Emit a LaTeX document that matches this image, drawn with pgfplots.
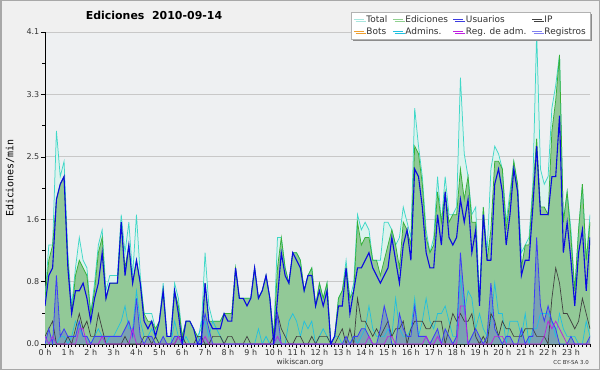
\documentclass[border=0pt]{standalone}
\usepackage{pgfplots}
\pgfplotsset{compat=1.18}
\usepackage{pgfplotstable}
\usepackage{fontspec}
\setmainfont{DejaVu Sans}
\newfontfamily\monofont{DejaVu Sans Mono}
\usetikzlibrary{shadows}
\definecolor{bgout}{HTML}{F0F0F0}
\definecolor{bgplot}{HTML}{EEF0F2}
\definecolor{framec}{HTML}{A8A8A8}
\definecolor{gridc}{HTML}{C8C8C8}
\definecolor{totline}{HTML}{40D8C8}
\definecolor{totfill}{HTML}{DDF3EE}
\definecolor{edline}{HTML}{38B038}
\definecolor{edfill}{HTML}{92C997}
\definecolor{usline}{HTML}{0A0AE0}
\definecolor{ipline}{HTML}{404040}
\definecolor{adline}{HTML}{20C0E0}
\definecolor{regline}{HTML}{3C3CF8}
\definecolor{raline}{HTML}{C020E0}
\definecolor{botline}{HTML}{F0A030}
\definecolor{lgtot}{HTML}{A8E6DE}
\definecolor{lged}{HTML}{90D090}
\definecolor{lgus}{HTML}{3C3CE0}
\definecolor{lgreg}{HTML}{8080F0}

\pgfplotstableread{
i U E T I R A M
0 0.5 0.6 0.6 0.1 0.0 0.1 0.1
1 0.9 1.1 1.3 0.2 0.2 0.0 0.0
2 1.0 1.3 1.3 0.3 0.0 0.1 0.1
3 1.9 1.9 2.8 0.0 0.9 0.0 0.0
4 2.1 2.1 2.2 0.0 0.1 0.1 0.0
5 2.2 2.2 2.4 0.0 0.2 0.1 0.0
6 1.0 1.1 1.2 0.1 0.1 0.0 0.0
7 0.4 0.4 0.5 0.0 0.1 0.1 0.0
8 0.7 0.9 1.0 0.2 0.1 0.3 0.0
9 0.7 1.1 1.4 0.4 0.3 0.2 0.2
10 0.8 1.0 1.1 0.2 0.1 0.1 0.2
11 0.6 0.9 1.0 0.3 0.1 0.1 0.0
12 0.3 0.4 0.4 0.1 0.0 0.0 0.0
13 0.6 0.7 0.8 0.1 0.1 0.1 0.0
14 0.8 1.2 1.3 0.4 0.1 0.2 0.0
15 1.2 1.4 1.5 0.2 0.1 0.1 0.1
16 0.6 0.6 0.7 0.0 0.1 0.0 0.0
17 0.8 0.8 0.9 0.0 0.1 0.1 0.0
18 0.8 0.8 0.9 0.0 0.1 0.1 0.0
19 0.8 0.8 0.9 0.0 0.1 0.2 0.0
20 1.6 1.6 1.7 0.0 0.1 0.3 0.0
21 0.9 1.0 1.2 0.1 0.2 0.5 0.0
22 1.3 1.3 1.6 0.0 0.3 0.2 0.0
23 0.8 0.8 0.9 0.0 0.1 0.2 0.2
24 1.1 1.1 1.7 0.0 0.6 0.7 0.0
25 0.8 0.8 0.9 0.0 0.1 0.3 0.0
26 0.3 0.4 0.4 0.1 0.0 0.1 0.0
27 0.2 0.3 0.4 0.1 0.1 0.1 0.0
28 0.3 0.3 0.4 0.0 0.1 0.2 0.0
29 0.1 0.2 0.2 0.1 0.0 0.1 0.0
30 0.3 0.3 0.3 0.0 0.0 0.0 0.0
31 0.7 0.7 0.8 0.0 0.1 0.0 0.0
32 0.1 0.1 0.1 0.0 0.0 0.0 0.0
33 0.1 0.1 0.1 0.0 0.0 0.0 0.0
34 0.7 0.7 0.8 0.0 0.1 0.3 0.0
35 0.4 0.5 0.6 0.1 0.1 0.1 0.1
36 0.0 0.1 0.1 0.1 0.0 0.0 0.0
37 0.3 0.3 0.3 0.0 0.0 0.1 0.0
38 0.3 0.3 0.3 0.0 0.0 0.0 0.0
39 0.2 0.2 0.2 0.0 0.0 0.0 0.0
40 0.0 0.1 0.1 0.1 0.0 0.0 0.0
41 0.0 0.1 0.2 0.1 0.1 0.3 0.0
42 0.8 0.8 1.2 0.0 0.4 0.3 0.1
43 0.3 0.3 0.5 0.0 0.2 0.1 0.0
44 0.2 0.3 0.3 0.1 0.0 0.3 0.0
45 0.2 0.3 0.3 0.1 0.0 0.2 0.0
46 0.2 0.3 0.3 0.1 0.0 0.1 0.0
47 0.4 0.4 0.4 0.0 0.0 0.0 0.0
48 0.3 0.4 0.4 0.1 0.0 0.0 0.0
49 0.3 0.4 0.4 0.1 0.0 0.0 0.0
50 1.0 1.0 1.0 0.0 0.0 0.0 0.0
51 0.6 0.6 0.6 0.0 0.0 0.0 0.0
52 0.6 0.6 0.6 0.0 0.0 0.0 0.0
53 0.5 0.6 0.6 0.1 0.0 0.0 0.0
54 0.6 0.6 0.6 0.0 0.0 0.0 0.0
55 1.0 1.0 1.0 0.0 0.0 0.0 0.0
56 0.6 0.6 0.6 0.0 0.0 0.2 0.0
57 0.7 0.7 0.7 0.0 0.0 0.0 0.0
58 0.9 0.9 0.9 0.0 0.0 0.1 0.0
59 0.6 0.6 0.6 0.0 0.0 0.0 0.0
60 0.0 0.1 0.1 0.1 0.0 0.0 0.0
61 0.6 1.0 1.4 0.4 0.4 0.1 0.1
62 1.2 1.4 1.4 0.2 0.0 0.0 0.0
63 0.9 1.0 1.0 0.1 0.0 0.0 0.0
64 0.8 0.8 0.8 0.0 0.0 0.3 0.0
65 1.2 1.2 1.2 0.0 0.0 0.4 0.0
66 1.1 1.2 1.2 0.1 0.0 0.3 0.0
67 1.0 1.1 1.1 0.1 0.0 0.1 0.0
68 0.7 0.7 0.7 0.0 0.0 0.3 0.0
69 0.9 0.9 0.9 0.0 0.0 0.2 0.0
70 0.9 1.0 1.0 0.1 0.0 0.3 0.0
71 0.5 0.5 0.5 0.0 0.0 0.0 0.0
72 0.7 0.8 0.8 0.1 0.0 0.1 0.0
73 0.5 0.6 0.6 0.1 0.0 0.2 0.0
74 0.7 0.8 0.8 0.1 0.0 0.1 0.0
75 0.0 0.0 0.0 0.0 0.0 0.0 0.0
76 0.1 0.1 0.1 0.0 0.0 0.1 0.0
77 0.5 0.6 0.6 0.1 0.0 0.1 0.0
78 0.5 0.7 0.7 0.2 0.0 0.0 0.0
79 1.0 1.0 1.1 0.0 0.1 0.0 0.0
80 0.4 0.6 0.6 0.2 0.0 0.0 0.0
81 0.7 0.7 0.8 0.0 0.1 0.1 0.0
82 1.0 1.6 1.7 0.6 0.1 0.0 0.0
83 1.0 1.3 1.5 0.3 0.2 0.1 0.0
84 1.1 1.4 1.6 0.3 0.2 0.2 0.0
85 1.2 1.4 1.5 0.2 0.1 0.5 0.1
86 1.0 1.1 1.1 0.1 0.0 0.2 0.0
87 0.9 1.1 1.1 0.2 0.0 0.1 0.0
88 0.8 0.9 1.1 0.1 0.2 0.1 0.0
89 0.9 1.1 1.6 0.2 0.5 0.1 0.0
90 1.0 1.3 1.6 0.3 0.3 0.2 0.1
91 1.4 1.5 1.5 0.1 0.0 0.1 0.1
92 1.1 1.3 1.3 0.2 0.0 0.6 0.0
93 0.8 1.0 1.4 0.2 0.4 0.2 0.0
94 1.3 1.6 1.8 0.3 0.2 0.1 0.0
95 1.5 1.5 1.6 0.0 0.1 0.1 0.0
96 1.1 1.3 1.4 0.2 0.1 0.2 0.0
97 2.3 2.6 3.1 0.3 0.5 0.6 0.0
98 2.2 2.5 2.6 0.3 0.1 0.1 0.0
99 1.8 2.1 2.2 0.3 0.1 0.3 0.0
100 1.2 1.4 1.5 0.2 0.1 0.6 0.1
101 1.0 1.2 1.2 0.2 0.0 0.3 0.0
102 1.0 1.3 1.4 0.3 0.1 0.2 0.0
103 1.7 2.0 2.2 0.3 0.2 0.4 0.1
104 1.3 1.6 1.6 0.3 0.0 0.4 0.0
105 2.0 2.0 2.2 0.0 0.2 0.5 0.0
106 1.4 1.6 1.7 0.2 0.1 0.3 0.0
107 1.3 1.7 1.7 0.4 0.0 0.1 0.0
108 1.4 1.7 1.8 0.3 0.1 0.1 0.0
109 1.9 2.3 3.5 0.4 1.2 0.9 0.5
110 1.6 1.9 2.5 0.3 0.6 0.4 0.5
111 1.9 2.2 2.2 0.3 0.0 0.7 0.0
112 1.2 1.6 1.7 0.4 0.1 0.6 0.0
113 1.5 1.6 1.8 0.1 0.2 0.2 0.0
114 0.5 0.5 0.6 0.0 0.1 0.4 0.0
115 1.7 1.8 1.8 0.1 0.0 0.2 0.0
116 1.1 1.1 1.2 0.0 0.1 0.1 0.0
117 1.1 1.5 2.3 0.4 0.8 0.3 0.0
118 2.1 2.4 2.6 0.3 0.2 0.8 0.1
119 2.3 2.4 2.5 0.1 0.1 0.4 0.1
120 2.0 2.3 2.3 0.3 0.0 0.4 0.1
121 1.3 1.5 1.6 0.2 0.1 0.0 0.0
122 1.7 1.9 2.0 0.2 0.1 0.3 0.0
123 2.3 2.4 2.4 0.1 0.0 0.3 0.0
124 2.0 2.1 2.1 0.1 0.0 0.3 0.0
125 0.9 1.0 1.2 0.1 0.2 0.1 0.0
126 1.1 1.3 1.3 0.2 0.0 0.4 0.0
127 1.1 1.3 1.4 0.2 0.1 0.0 0.0
128 1.8 2.0 2.1 0.2 0.1 0.2 0.0
129 2.6 2.7 4.1 0.1 1.4 0.2 0.0
130 1.7 1.8 2.3 0.1 0.5 0.4 0.0
131 1.7 1.8 2.1 0.1 0.3 0.4 0.1
132 1.7 1.7 2.2 0.0 0.5 0.4 0.3
133 2.2 2.8 3.1 0.6 0.3 0.3 0.2
134 2.2 3.2 3.4 1.0 0.2 0.1 0.3
135 3.0 3.8 3.8 0.8 0.0 0.4 0.2
136 1.2 1.6 1.6 0.4 0.0 0.2 0.1
137 1.6 2.0 2.0 0.4 0.0 0.1 0.0
138 1.1 1.4 1.5 0.3 0.1 0.1 0.0
139 0.5 0.7 0.7 0.2 0.0 0.1 0.0
140 1.2 1.5 1.5 0.3 0.0 0.0 0.0
141 1.5 2.1 2.1 0.6 0.0 0.0 0.0
142 0.7 1.1 1.1 0.4 0.0 0.3 0.0
143 1.4 1.6 1.7 0.2 0.1 0.1 0.0
}\data

\begin{document}
\begin{tikzpicture}[x=1bp,y=1bp]
\fill[bgout] (0,0) rectangle (600,370);
\draw[framec, line width=1.5bp] (0.75,0.75) rectangle (599.25,369.25);
\begin{axis}[
  at={(45bp,26bp)}, anchor=south west,
  scale only axis, width=545bp, height=312bp,
  xmin=0, xmax=143, ymin=0, ymax=4.1,
  axis x line*=bottom, axis y line*=left,
  axis line style={black, line width=0.9bp},
  axis background/.style={fill=bgplot},
  tick align=outside,
  major tick length=4bp, minor tick length=3bp,
  every tick/.style={black, line width=0.6bp},
  xtick={0,6,...,138},
  xticklabels={0 h,1 h,2 h,3 h,4 h,5 h,6 h,7 h,8 h,9 h,10 h,11 h,12 h,13 h,14 h,15 h,16 h,17 h,18 h,19 h,20 h,21 h,22 h,23 h},
  minor xtick={0,1,...,143},
  ytick={0,0.82,1.64,2.46,3.28,4.1},
  yticklabels={0.0,0.8,1.6,2.5,3.3,4.1},
  minor ytick={0.41,1.23,2.05,2.87,3.69},
  ymajorgrids, major grid style={gridc, line width=0.8bp},
  ticklabel style={font=\fontsize{8}{9}\selectfont, text=black!80},
  xticklabel style={inner sep=1bp, yshift=-0.5bp},
  yticklabel style={inner sep=1.5bp},
  legend columns=4,
  legend cell align=left,
  legend image code/.code={\draw[#1] (0bp,0bp) -- (10bp,0bp);},
  legend style={at={(1,1.064)}, anchor=north east, draw=gray!60, fill=white,
    font=\fontsize{9}{9}\selectfont, text=black!80, inner xsep=2bp, inner ysep=1.5bp,
    row sep=-0.5bp,
    /tikz/every even column/.append style={column sep=3bp},
    drop shadow={shadow xshift=2bp, shadow yshift=-2bp, fill=gray!90, opacity=1}},
]
\addplot[fill=totfill, draw=none, forget plot] table[x=i,y=T]{\data} \closedcycle;
\addplot[fill=edfill, draw=none, forget plot] table[x=i,y=E]{\data} \closedcycle;
\addplot[fill=regline, fill opacity=0.28, draw=none, forget plot] table[x=i,y=R]{\data} \closedcycle;
\addplot[totline, line width=0.75bp, forget plot] table[x=i,y=T]{\data};
\addplot[edline, line width=0.75bp, forget plot] table[x=i,y=E]{\data};
\addplot[adline, line width=0.7bp, forget plot] table[x=i,y=A]{\data};
\addplot[ipline, line width=0.7bp, forget plot] table[x=i,y=I]{\data};
\addplot[regline, line width=0.8bp, forget plot] table[x=i,y=R]{\data};
\addplot[raline, line width=0.7bp, forget plot] table[x=i,y=M]{\data};
\addplot[usline, line width=1.1bp, forget plot] table[x=i,y=U]{\data};
\addlegendimage{lgtot, line width=1bp}\addlegendentry{Total}
\addlegendimage{lged, line width=1bp}\addlegendentry{Ediciones}
\addlegendimage{lgus, line width=1bp}\addlegendentry{Usuarios}
\addlegendimage{ipline, line width=1bp}\addlegendentry{IP}
\addlegendimage{botline, line width=1bp}\addlegendentry{Bots}
\addlegendimage{adline, line width=1bp}\addlegendentry{Admins.}
\addlegendimage{raline, line width=1bp}\addlegendentry{Reg. de adm.}
\addlegendimage{lgreg, line width=1bp}\addlegendentry{Registros}
\end{axis}
\node[font=\bfseries\fontsize{11}{12}\selectfont] at (154,355) {Ediciones\ \ 2010-09-14};
\node[font=\monofont\fontsize{10}{11}\selectfont, rotate=90] at (10,192) {Ediciones/min};
\node[font=\fontsize{7.5}{8}\selectfont, text=black!80] at (300,8) {wikiscan.org};
\node[font=\fontsize{5.5}{6}\selectfont, text=black!80, anchor=east, inner sep=0pt] at (589,8) {CC BY-SA 3.0};
\end{tikzpicture}
\end{document}
